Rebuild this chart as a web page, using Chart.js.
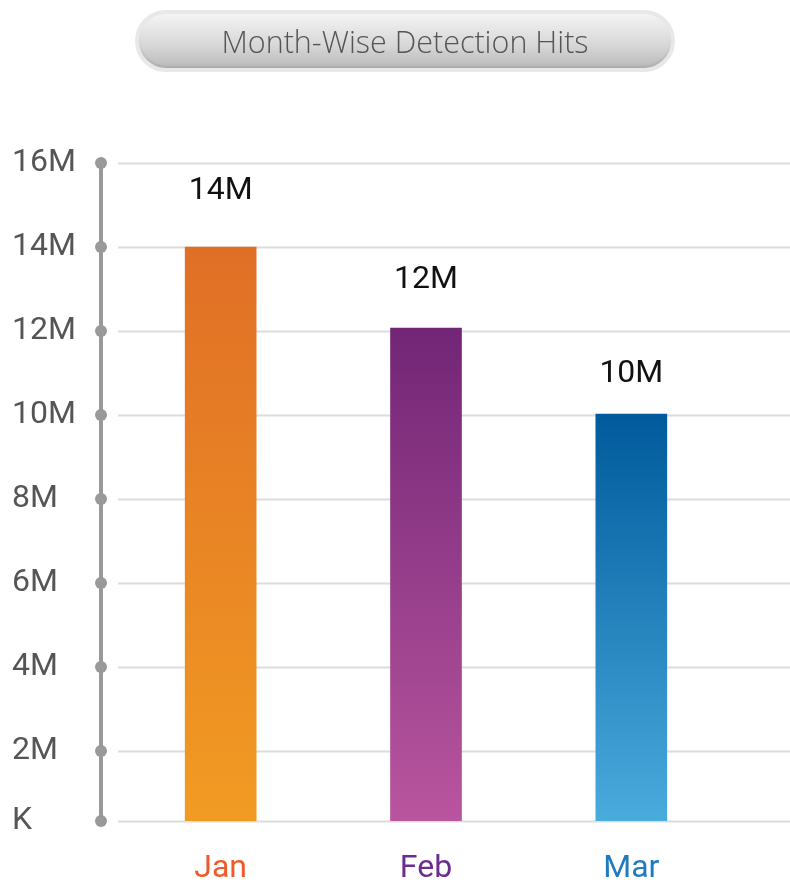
<!DOCTYPE html>
<html>
<head>
<meta charset="utf-8">
<script src="https://cdn.jsdelivr.net/npm/chart.js@4/dist/chart.umd.min.js"></script>
<style>
  html,body{margin:0;padding:0;background:#fff;}
  #wrap{position:relative;width:790px;height:884px;}
  #title{position:absolute;left:135px;top:10px;width:532px;height:54px;border:4px solid #e8e8e8;border-radius:32px;
    background:linear-gradient(#f4f4f4,#d6d6d6 60%,#b9b9b9);box-shadow:inset 0 -2px 2px rgba(0,0,0,0.08);
    font-family:"Open Sans",sans-serif;font-weight:300;font-size:30.5px;color:#555;text-align:center;line-height:54px;}
  canvas{position:absolute;left:0;top:0;}
</style>
</head>
<body>
<div id="wrap">
  <canvas id="c" width="790" height="884"></canvas>
  <div id="title">Month-Wise Detection Hits</div>
</div>
<script>
const months=['Jan','Feb','Mar'];
const hits=[14000000,12070000,10020000];
const barLabels=['14M','12M','10M'];
const monthColors=['#f05a2a','#6b2d90','#1f7bc0'];
const barTop=['#e06f26','#722676','#005a9c'];
const barBottom=['#f29b23','#b9559e','#4aabdd'];
const yTickValues=[333333,2000000,4000000,6000000,8000000,10000000,12000000,14000000,16000000];
const yTickLabels=['K','2M','4M','6M','8M','10M','12M','14M','16M'];

function barGrad(ctx){
  const chart=ctx.chart, y=chart.scales.y;
  if(!y || !chart.chartArea) return barBottom[ctx.dataIndex];
  const top=y.getPixelForValue(ctx.raw), bot=y.getPixelForValue(y.min);
  const g=chart.ctx.createLinearGradient(0,top,0,bot);
  g.addColorStop(0,barTop[ctx.dataIndex]);
  g.addColorStop(1,barBottom[ctx.dataIndex]);
  return g;
}

const axisDecor={
  id:'axisDecor',
  beforeDatasetsDraw(chart){
    const c=chart.ctx, y=chart.scales.y, a=chart.chartArea;
    c.save();
    c.strokeStyle='#dcdcdc'; c.lineWidth=2;
    yTickValues.forEach(v=>{
      const py=Math.round(y.getPixelForValue(v))+0.5;
      c.beginPath(); c.moveTo(a.left,py); c.lineTo(chart.width,py); c.stroke();
    });
    const ax=a.left-17;
    c.strokeStyle='#999'; c.lineWidth=4;
    c.beginPath(); c.moveTo(ax,y.getPixelForValue(y.max)); c.lineTo(ax,y.getPixelForValue(y.min)); c.stroke();
    c.fillStyle='#999';
    yTickValues.forEach(v=>{
      c.beginPath(); c.arc(ax,y.getPixelForValue(v),6,0,Math.PI*2); c.fill();
    });
    c.restore();
  },
  afterDatasetsDraw(chart){
    const c=chart.ctx, y=chart.scales.y, x=chart.scales.x;
    c.save();
    c.fillStyle='#111'; c.font='32px Roboto'; c.textAlign='center'; c.textBaseline='middle';
    hits.forEach((v,i)=>{
      c.fillText(barLabels[i],x.getPixelForValue(i),y.getPixelForValue(v*1.095));
    });
    c.restore();
  }
};

new Chart(document.getElementById('c'),{
  type:'bar',
  data:{labels:months,datasets:[{data:hits,backgroundColor:barGrad,barThickness:71}]},
  options:{
    responsive:false,animation:false,
    layout:{padding:{top:163,left:12,right:56,bottom:0}},
    plugins:{legend:{display:false},tooltip:{enabled:false}},
    scales:{
      x:{grid:{display:false},border:{display:false},
        afterFit(s){ s.height=63; },
        ticks:{color:monthColors,padding:24,font:{family:'Roboto',size:32,lineHeight:1}}},
      y:{min:333333,max:16000000,grid:{display:false},border:{display:false},
        afterBuildTicks(s){ s.ticks=yTickValues.map(v=>({value:v})); },
        afterFit(s){ s.width=106; },
        ticks:{crossAlign:'far',color:'#555',font:{family:'Roboto',size:32},
          callback:(v,i)=>yTickLabels[i]}}
    }
  },
  plugins:[axisDecor]
});
</script>
</body>
</html>
